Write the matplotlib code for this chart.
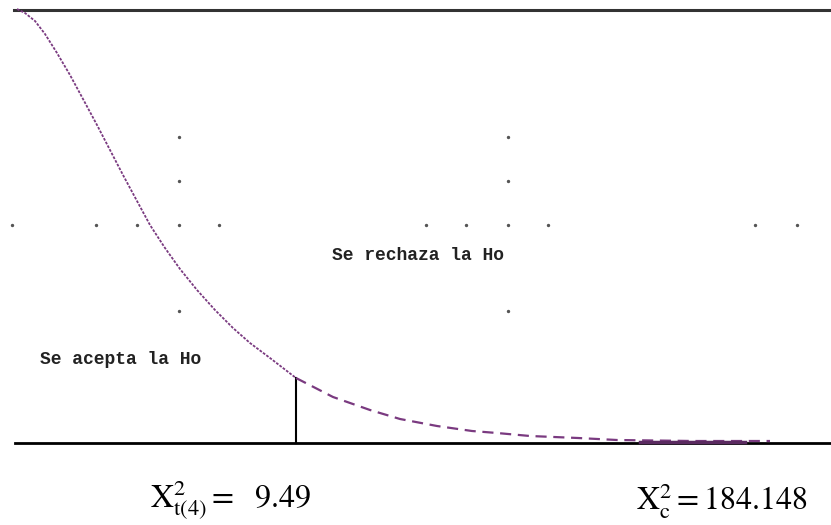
import matplotlib
matplotlib.use("Agg")
from matplotlib import pyplot as plt

# curve (x, height from top), left part dotted
curve_x = [17, 25, 35, 45, 57, 70, 83, 97, 110, 123, 137, 150, 165, 180,
           197, 215, 233, 250, 270, 296]
curve_y = [9, 13, 21, 34, 53, 75, 99, 125, 150, 175, 201, 225, 248, 269,
           290, 310, 328, 343, 358, 378]
# tail right of the critical value, dashed
tail_x = [296, 333, 370, 400, 437, 472, 497, 530, 578, 617, 693, 743, 770]
tail_y = [378, 397, 410, 419, 426, 431, 433, 436, 438, 440, 441, 441, 441]

# dotted marks
dot_x = [12, 96, 137, 179, 219, 426, 466, 508, 548, 755, 797,
         179, 179, 179, 508, 508, 508]
dot_y = [225] * 11 + [137, 181, 311, 137, 181, 311]

t_crit = "9.49"
x2_calc = "184.148"

plt.rcParams['mathtext.fontset'] = 'stix'

fig = plt.figure(figsize=(8.31, 5.25), dpi=100)
ax = fig.add_axes([0, 0, 1, 1])
ax.set_xlim(0, 831)
ax.set_ylim(525, 0)
ax.axis('off')

ax.plot([14, 831], [10, 10], color='#333333', lw=2.2)
ax.plot([15, 831], [443, 443], color='black', lw=2.0)
ax.plot([296, 296], [378, 443], color='black', lw=1.5)

ax.plot(curve_x, curve_y, color='#7a3a80', lw=1.3, ls=(0, (1.5, 0.8)))
ax.plot(tail_x, tail_y, color='#7a3a80', lw=1.6, ls=(0, (5, 3)))
ax.plot([640, 745], [441.5, 441.5], color='#5a2a60', lw=2.5)

ax.scatter(dot_x, dot_y, s=2, color='#555555')

ax.text(418, 255, "Se rechaza la Ho", ha='center', va='center',
        family='Liberation Mono', fontsize=13, weight='bold', color='#222222')
ax.text(40, 360, "Se acepta la Ho", ha='left', va='center',
        family='Liberation Mono', fontsize=13, weight='bold', color='#222222')

ax.text(150, 500, r"$\mathrm{X}^2_{\mathrm{t(4)}} =$  " + t_crit, ha='left', va='center',
        family='STIXGeneral', fontsize=23)
ax.text(807, 500, r"$\mathrm{X}^2_{\mathrm{c}} = $" + x2_calc, ha='right', va='center',
        family='STIXGeneral', fontsize=23)

fig.savefig("out.png", dpi=100)
